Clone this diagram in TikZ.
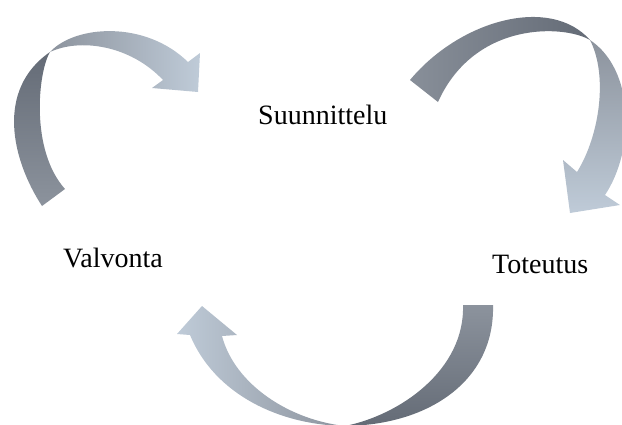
\documentclass[tikz,border=0pt]{standalone}
\usepackage{fontspec}
\setmainfont{Liberation Serif}
\usetikzlibrary{positioning}
\definecolor{dk}{HTML}{646B76}
\definecolor{md}{HTML}{8C939D}
\definecolor{lt}{HTML}{BFCBD8}

\begin{document}
\begin{tikzpicture}[x=1pt, y=-1pt, every node/.style={inner sep=0pt, font=\fontsize{28}{30}\selectfont}]
\clip (0,0) rectangle (622,424);
% labels
\node (s) [anchor=base west] at (258,124) {Suunnittelu};
\node (t) [anchor=base west] at (492,273) {Toteutus};
\node (v) [anchor=base west] at (63,267) {Valvonta};
% arrow from Valvonta to Suunnittelu
\shade[top color=dk, bottom color=md] (42,206) .. controls (12,160) and (-5,90) .. (50,52)
  .. controls (38,72) and (30,150) .. (65,189) -- cycle;
\shade[left color=md, right color=lt] (50,52) .. controls (75,25) and (145,20) .. (188,62)
  -- (200,53) -- (198,92) -- (152,88) -- (163,80) .. controls (130,45) and (80,38) .. (50,52) -- cycle;
% arrow from Suunnittelu to Toteutus
\shade[left color=md!90!dk, right color=dk] (410,80) .. controls (460,20) and (550,-5) .. (590,40)
  .. controls (565,25) and (475,20) .. (438,102) -- cycle;
\shade[top color=md, bottom color=lt] (590,40) .. controls (635,70) and (635,150) .. (605,195)
  -- (620,205) -- (570,213) -- (563,160) -- (577,172) .. controls (600,135) and (608,75) .. (590,40) -- cycle;
% arrow from Toteutus to Valvonta
\shade[top color=md, bottom color=dk] (493,305) .. controls (495,380) and (430,425) .. (345,426)
  .. controls (400,415) and (465,370) .. (463,305) -- cycle;
\shade[left color=lt, right color=md] (345,426) .. controls (280,425) and (215,395) .. (190,335)
  -- (177,334) -- (202,306) -- (237,335) -- (222,336) .. controls (235,385) and (290,420) .. (345,426) -- cycle;
\end{tikzpicture}
\end{document}
